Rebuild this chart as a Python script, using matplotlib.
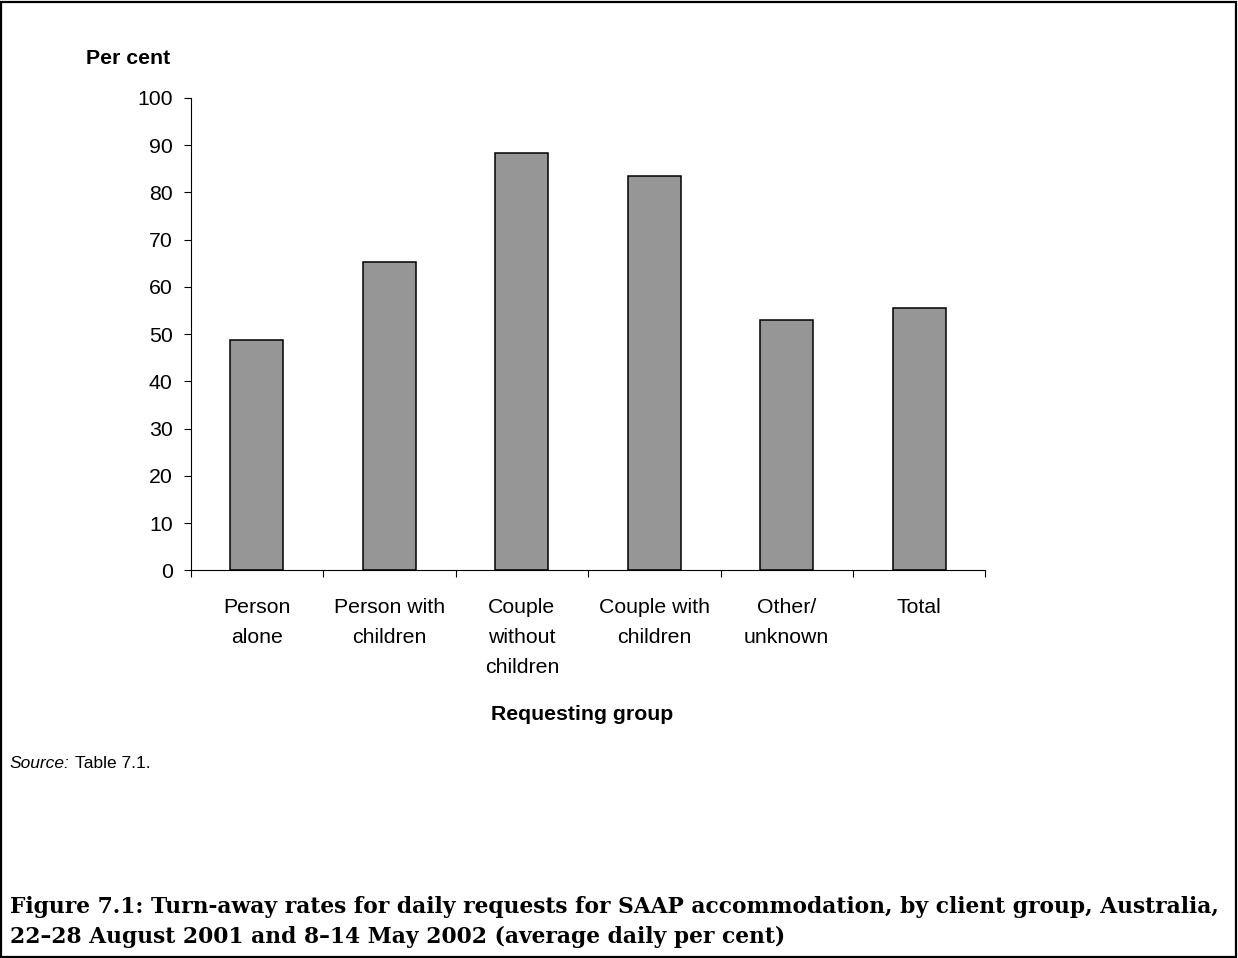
import numpy as np
import matplotlib.pyplot as plt
from matplotlib.patches import Rectangle

groups = ['Person\nalone', 'Person with\nchildren', 'Couple\nwithout\nchildren',
          'Couple with\nchildren', 'Other/\nunknown', 'Total']
turnaway = [48.7, 65.2, 88.4, 83.4, 53.0, 55.5]

plt.rcParams['font.family'] = ['Liberation Sans', 'DejaVu Sans']

fig = plt.figure(figsize=(12.38, 9.58), dpi=100)
ax = fig.add_axes([0.154, 0.4047, 0.642, 0.4932])

x = np.arange(len(groups))
ax.bar(x, turnaway, width=0.4, color='#969696', edgecolor='black', linewidth=1.1)

ax.set_xlim(-0.5, len(groups) - 0.5)
ax.set_ylim(0, 100)
ax.set_yticks(np.arange(0, 101, 10))
ax.tick_params(axis='y', labelsize=15.3, length=5, width=0.8, pad=8)

# labels sit under the bars, tick marks sit between categories
ax.set_xticks(x)
ax.set_xticklabels(groups, fontsize=15.3, linespacing=1.72, va='top')
ax.tick_params(axis='x', which='major', length=0, pad=20)
ax.set_xticks(np.arange(-0.5, len(groups)), minor=True)
ax.tick_params(axis='x', which='minor', length=5, width=0.8)

for side in ['top', 'right']:
    ax.spines[side].set_visible(False)
for side in ['left', 'bottom']:
    ax.spines[side].set_linewidth(0.8)

fig.text(86 / 1238, 1 - 58 / 958, 'Per cent', fontsize=15.3, fontweight='bold', va='center')
fig.text(582 / 1238, 1 - 715 / 958, 'Requesting group', fontsize=15.3, fontweight='bold',
         ha='center', va='center')

# source note: italic label followed by the plain reference
src = fig.text(10 / 1238, 1 - 768 / 958, 'Source:', fontsize=12.5, style='italic',
               va='baseline')
ax.annotate('Table 7.1.', xy=(1, 0), xycoords=src, xytext=(3.5, 0),
            textcoords='offset points', fontsize=12.5, va='bottom', annotation_clip=False)

fig.text(10 / 1238, 1 - 907 / 958,
         'Figure 7.1: Turn-away rates for daily requests for SAAP accommodation, '
         'by client group, Australia,',
         fontsize=15.7, fontweight='bold', family='DejaVu Serif', va='center')
fig.text(10 / 1238, 1 - 937 / 958,
         '22\u201328 August 2001 and 8\u201314 May 2002 (average daily per cent)',
         fontsize=15.7, fontweight='bold', family='DejaVu Serif', va='center')

fig.patches.append(Rectangle((0.001, 0.001), 0.997, 0.997, transform=fig.transFigure,
                             fill=False, edgecolor='black', linewidth=1.6))

fig.savefig('out.png', dpi=100)
